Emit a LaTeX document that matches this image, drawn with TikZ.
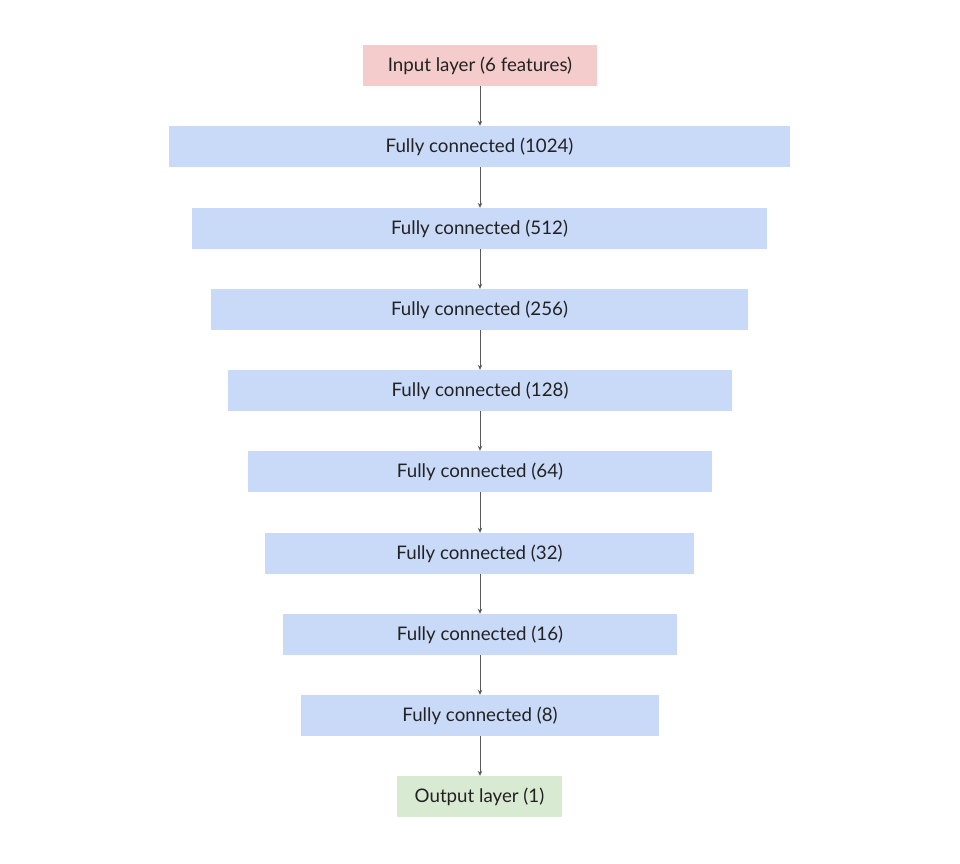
\documentclass[tikz,border=0pt]{standalone}
\usepackage{fontspec}
\setmainfont{Lato}
\usetikzlibrary{arrows.meta}
\definecolor{inred}{HTML}{F4CCCC}
\definecolor{fcblue}{HTML}{C9DAF8}
\definecolor{outgreen}{HTML}{D9EAD3}
\definecolor{arrgray}{HTML}{595959}
\definecolor{txt}{HTML}{222222}
\tikzset{
  layer/.style={minimum height=41pt, inner sep=0pt, text=txt, font=\fontsize{18.7}{22}\selectfont},
  conn/.style={draw=arrgray, line width=1pt, -{Stealth[length=5pt,width=4.5pt]}}
}
\newcommand{\lbl}[1]{\raisebox{-2pt}{#1}}
\begin{document}
\begin{tikzpicture}[x=1pt,y=-1pt]
\useasboundingbox (0,0) rectangle (960,863);
\node[layer, fill=inred, minimum width=234pt] (in) at (480,65.5) {\lbl{Input layer (6 features)}};
\node[layer, fill=fcblue, minimum width=621pt] (f1) at (479.5,146.5) {\lbl{Fully connected (1024)}};
\node[layer, fill=fcblue, minimum width=575pt] (f2) at (479.5,228.5) {\lbl{Fully connected (512)}};
\node[layer, fill=fcblue, minimum width=537pt] (f3) at (479.5,309.5) {\lbl{Fully connected (256)}};
\node[layer, fill=fcblue, minimum width=504pt] (f4) at (480,390.5) {\lbl{Fully connected (128)}};
\node[layer, fill=fcblue, minimum width=464pt] (f5) at (480,471.5) {\lbl{Fully connected (64)}};
\node[layer, fill=fcblue, minimum width=429pt] (f6) at (479.5,553.5) {\lbl{Fully connected (32)}};
\node[layer, fill=fcblue, minimum width=394pt] (f7) at (480,634.5) {\lbl{Fully connected (16)}};
\node[layer, fill=fcblue, minimum width=358pt] (f8) at (480,715.5) {\lbl{Fully connected (8)}};
\node[layer, fill=outgreen, minimum width=165pt] (out) at (479.5,796.5) {\lbl{Output layer (1)}};
\foreach \a/\b in {in/f1,f1/f2,f2/f3,f3/f4,f4/f5,f5/f6,f6/f7,f7/f8,f8/out}
  \draw[conn] (\a.south -| 480,0) -- (\b.north -| 480,0);
\end{tikzpicture}
\end{document}
